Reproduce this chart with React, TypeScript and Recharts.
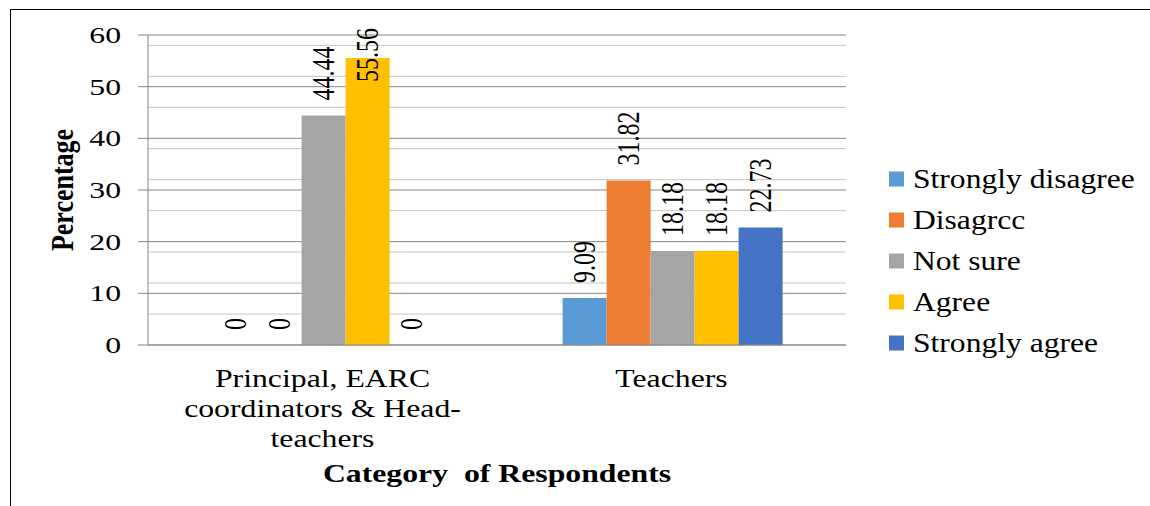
import React from "react";
import { BarChart, Bar, XAxis, YAxis, CartesianGrid, Legend, LabelList } from "recharts";

const categories = ["Principal, EARC coordinators & Head-teachers", "Teachers"];
const categoryLines = [["Principal, EARC", "coordinators & Head-", "teachers"], ["Teachers"]];
const stronglyDisagree = [0, 9.09];
const disagree = [0, 31.82];
const notSure = [44.44, 18.18];
const agree = [55.56, 18.18];
const stronglyAgree = [0, 22.73];
const yTicks = [0, 10, 20, 30, 40, 50, 60];
const minorTicks = [2, 4, 6, 8, 12, 14, 16, 18, 22, 24, 26, 28, 32, 34, 36, 38, 42, 44, 46, 48, 52, 54, 56, 58];

const seriesNames = ["Strongly disagree", "Disagrcc", "Not sure", "Agree", "Strongly agree"];
const seriesKeys = ["sd", "d", "ns", "a", "sa"];
const seriesColors = ["#5B9BD5", "#ED7D31", "#A5A5A5", "#FFC000", "#4472C4"];
const seriesValues = [stronglyDisagree, disagree, notSure, agree, stronglyAgree];

const data = categories.map((c, i) => {
  const row: any = { name: c, idx: i };
  seriesKeys.forEach((k, j) => {
    row[k] = seriesValues[j][i];
  });
  return row;
});

const FONT = '"Liberation Serif", "DejaVu Serif", serif';
const AXIS_COLOR = "#868686";
const txtStyle = { fontFamily: FONT };

const ValueLabel = (props: any) => {
  const { x, y, width, value } = props;
  const cx = x + width / 2;
  const fs = 24;
  const s = String(value);
  let len = 0;
  for (const ch of s) len += ch === "." ? 0.25 : 0.5;
  len *= fs;
  let start = y - 15;
  if (start - len < 28) start = 28 + len;
  return (
    <text
      transform={`translate(${cx},${start}) scale(1.3,1) rotate(-90)`}
      textAnchor="start"
      dominantBaseline="central"
      fontSize={fs}
      style={txtStyle}
      fill="#000"
    >
      {s}
    </text>
  );
};

const YTick = (props: any) => {
  const { x, y, payload } = props;
  return (
    <text
      transform={`translate(${x},${y}) scale(1.38,1)`}
      textAnchor="end"
      dominantBaseline="central"
      fontSize={23}
      style={txtStyle}
      fill="#000"
    >
      {payload.value}
    </text>
  );
};

const XTick = (props: any) => {
  const { x, y, payload } = props;
  const idx = categories.indexOf(payload.value);
  const lines = categoryLines[idx] || [String(payload.value)];
  return (
    <g>
      {lines.map((l, i) => (
        <text
          key={i}
          transform={`translate(${x},${y + 42 + i * 30}) scale(1.27,1)`}
          textAnchor="middle"
          fontSize={25}
          style={txtStyle}
          fill="#000"
        >
          {l}
        </text>
      ))}
    </g>
  );
};

const XTitle = (props: any) => {
  const { viewBox } = props;
  const cx = viewBox.x + viewBox.width / 2;
  return (
    <text
      transform={`translate(${cx},${viewBox.y + 137}) scale(1.27,1)`}
      textAnchor="middle"
      fontSize={25}
      fontWeight="bold"
      fill="#000"
      style={{ whiteSpace: "pre", fontFamily: FONT }}
    >
      {"Category  of Respondents"}
    </text>
  );
};

const YTitle = (props: any) => {
  const { viewBox } = props;
  const cy = viewBox.y + viewBox.height / 2;
  return (
    <text
      transform={`translate(62,${cy}) scale(1.25,1) rotate(-90)`}
      textAnchor="middle"
      dominantBaseline="central"
      fontSize={26}
      fontWeight="bold"
      style={txtStyle}
      fill="#000"
    >
      Percentage
    </text>
  );
};

const LegendContent = () => (
  <svg width={265} height={210} style={{ display: "block" }}>
    {seriesNames.map((n, i) => {
      const cy = 19 + 41 * i;
      return (
        <g key={n}>
          <rect x={4} y={cy - 7.5} width={15} height={15} fill={seriesColors[i]} />
          <text
            transform={`translate(28,${cy}) scale(1.17,1)`}
            dominantBaseline="central"
            fontSize={27}
            style={txtStyle}
            fill="#000"
          >
            {n}
          </text>
        </g>
      );
    })}
  </svg>
);

export default function App() {
  return (
    <div style={{ position: "absolute", left: 0, top: 0, width: 1150, height: 506, background: "#fff" }}>
      <div
        style={{
          position: "absolute",
          left: 10,
          top: 9,
          width: 1140,
          height: 497,
          borderTop: "1.5px solid #000",
          borderLeft: "1.5px solid #000",
          boxSizing: "border-box",
        }}
      />
      <div style={{ position: "absolute", left: 0, top: 0 }}>
        <BarChart
          width={1150}
          height={506}
          data={data}
          margin={{ top: 35, right: 304, bottom: 0, left: 0 }}
          barCategoryGap="18.8%"
          barGap={0}
        >
          <CartesianGrid vertical={false} horizontalValues={minorTicks} stroke="#C4C4C4" strokeWidth={1} />
          <CartesianGrid vertical={false} horizontalValues={yTicks} stroke={AXIS_COLOR} strokeWidth={1} />
          <XAxis
            dataKey="name"
            height={161}
            tickLine={false}
            tickSize={0}
            tickMargin={0}
            axisLine={{ stroke: AXIS_COLOR }}
            tick={<XTick />}
            interval={0}
            label={<XTitle />}
          />
          <YAxis
            width={148}
            domain={[0, 60]}
            ticks={yTicks}
            tickSize={10}
            tickMargin={17}
            tickLine={{ stroke: AXIS_COLOR }}
            axisLine={{ stroke: AXIS_COLOR }}
            tick={<YTick />}
            label={<YTitle />}
          />
          <Legend
            layout="horizontal"
            align="center"
            verticalAlign="middle"
            wrapperStyle={{ left: 885, top: 160, width: 265, height: 210 }}
            content={<LegendContent />}
          />
          {seriesKeys.map((k, j) => (
            <Bar
              key={k}
              dataKey={k}
              name={seriesNames[j]}
              fill={seriesColors[j]}
              minPointSize={0.01}
              isAnimationActive={false}
            >
              <LabelList dataKey={k} content={<ValueLabel />} />
            </Bar>
          ))}
        </BarChart>
      </div>
    </div>
  );
}
